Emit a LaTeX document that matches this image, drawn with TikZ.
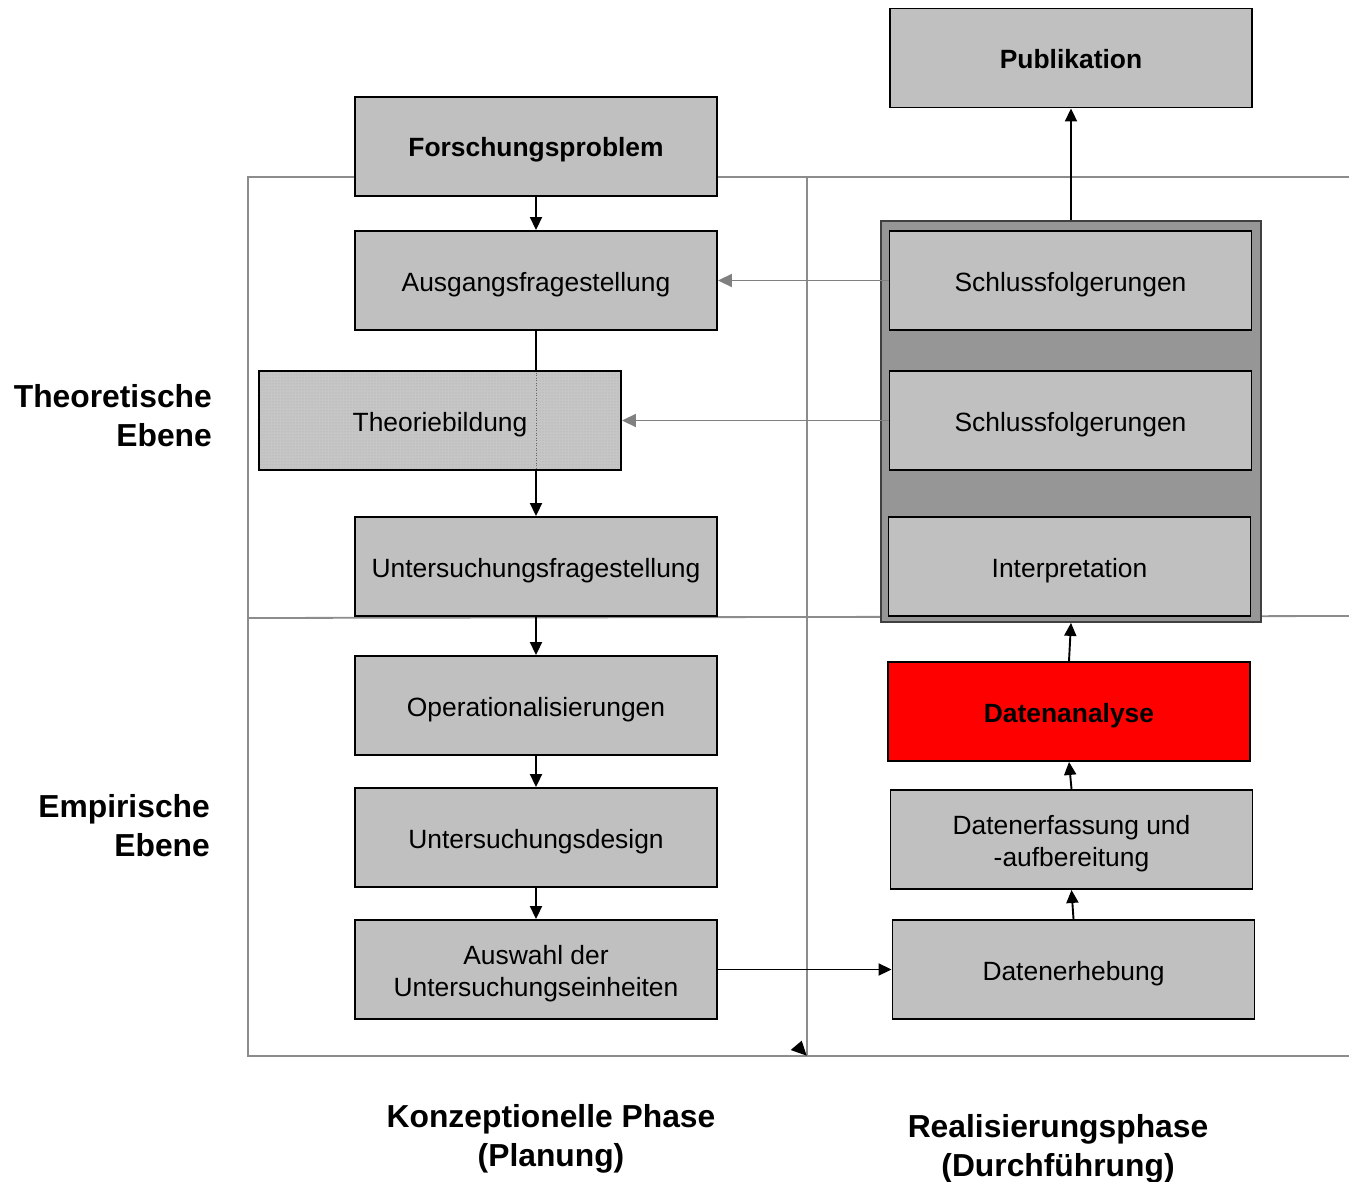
\documentclass[tikz,border=0pt]{standalone}
\usepackage{fontspec}
\setmainfont{Liberation Sans}
\usetikzlibrary{patterns,backgrounds,arrows.meta}
\definecolor{boxgray}{HTML}{C0C0C0}
\definecolor{contgray}{HTML}{969696}
\definecolor{gridgray}{HTML}{8C8C8C}
\definecolor{arrgray}{HTML}{808080}
\definecolor{dotgray}{HTML}{A8A8A8}
\tikzset{
  stepbox/.style={draw=black, line width=1.9pt, fill=boxgray, minimum width=362pt, minimum height=99pt, inner sep=0pt, align=center, text height=21pt, text depth=0pt, font=\fontsize{26.4}{32}\selectfont},
  twoline/.style={text height=54pt, text depth=0pt},
  boldbox/.style={stepbox, font=\fontsize{26.4}{32}\selectfont\bfseries},
  biglabel/.style={inner sep=0pt, font=\fontsize{31.8}{39}\selectfont\bfseries},
  gridline/.style={draw=gridgray, line width=1.8pt},
  conn/.style={draw=black, line width=1.9pt, -{Triangle[length=13pt,width=12pt]}},
  grayconn/.style={draw=arrgray, line width=1.9pt, -{Triangle[length=14pt,width=13pt]}},
}
\begin{document}
\begin{tikzpicture}[x=1pt,y=1pt]
\useasboundingbox (0,0) rectangle (1349,-1182);
% nodes
\node[boldbox] (pub) at (1071,-58) {Publikation};
\node[boldbox] (fp) at (536,-146.5) {Forschungsproblem};
\node[stepbox] (af) at (536,-280.5) {Ausgangsfragestellung};
\node[stepbox, fill=none] (tb) at (440,-420.5) {Theoriebildung};
\node[stepbox] (uf) at (536,-566.5) {Untersuchungsfragestellung};
\node[stepbox] (op) at (536,-705.5) {Operationalisierungen};
\node[stepbox] (ud) at (536,-837.5) {Untersuchungsdesign};
\node[stepbox, twoline] (aw) at (536,-969.5) {Auswahl der\\Untersuchungseinheiten};
\node[draw=black!75, line width=1.8pt, fill=contgray, minimum width=380pt, minimum height=401pt, inner sep=0pt] (cont) at (1071,-421.5) {};
\node[stepbox] (s1) at (1070.5,-280.5) {Schlussfolgerungen};
\node[stepbox] (s2) at (1070.5,-420.5) {Schlussfolgerungen};
\node[stepbox] (ip) at (1069.5,-566.5) {Interpretation};
\node[boldbox, fill=red] (da) at (1069,-711.5) {Datenanalyse};
\node[stepbox, twoline] (de) at (1071.5,-839.5) {Datenerfassung und\\-aufbereitung};
\node[stepbox] (dh) at (1073.5,-969.5) {Datenerhebung};
% background grid, long connector, Theoriebildung texture
\begin{scope}[on background layer]
  \coordinate (g1) at (248,-177);
  \coordinate (g2) at (1349,-177);
  \coordinate (g3) at (248,-1056);
  \coordinate (g4) at (1349,-1056);
  \coordinate (gm1) at (807,-177);
  \coordinate (gm2) at (807,-1056);
  \coordinate (gh1) at (248,-618);
  \coordinate (gh2) at (1349,-616);
  \draw[gridline] (g2) -- (g1) -- (g3) -- (g4);
  \draw[gridline] (gm1) -- (gm2);
  \draw[gridline] (gh1) -- (gh2);
  \draw[conn] (af.south) -- (uf.north);
  \fill[boxgray!90!white] (tb.south west) rectangle (tb.north east);
  \fill[pattern=dots, pattern color=dotgray] (tb.south west) rectangle (tb.north east);
  \draw[black!60, line width=0.5pt, dotted] (af.south |- tb.north) -- (af.south |- tb.south);
\end{scope}
% connectors
\draw[conn] (fp.south) -- (af.north);
\draw[conn] (uf.south) -- (op.north);
\draw[conn] (op.south) -- (ud.north);
\draw[conn] (ud.south) -- (aw.north);
\draw[conn] (aw.east) -- (dh.west);
\draw[conn] (dh.north) -- (de.south);
\draw[conn] (de.north) -- (da.south);
\draw[conn] (da.north) -- (cont.south);
\draw[conn] (cont.north) -- (pub.south);
\draw[grayconn] (s1.west) -- (af.east);
\draw[grayconn] (s2.west) -- (tb.east);
% stray arrowhead
\fill[black] (790.7,-1050) -- (801.7,-1040.7) -- (806.7,-1055.7) -- cycle;
% side and bottom labels
\node[biglabel, align=right, anchor=east] (lt) at (212,-416) {Theoretische\\Ebene};
\node[biglabel, align=right, anchor=east] (le) at (210,-826) {Empirische\\Ebene};
\node[biglabel, align=center] (lk) at (551,-1139) {Konzeptionelle Phase\\(Planung)};
\node[biglabel, align=center] (lr) at (1058,-1149) {Realisierungsphase\\(Durchführung)};
\end{tikzpicture}
\end{document}
